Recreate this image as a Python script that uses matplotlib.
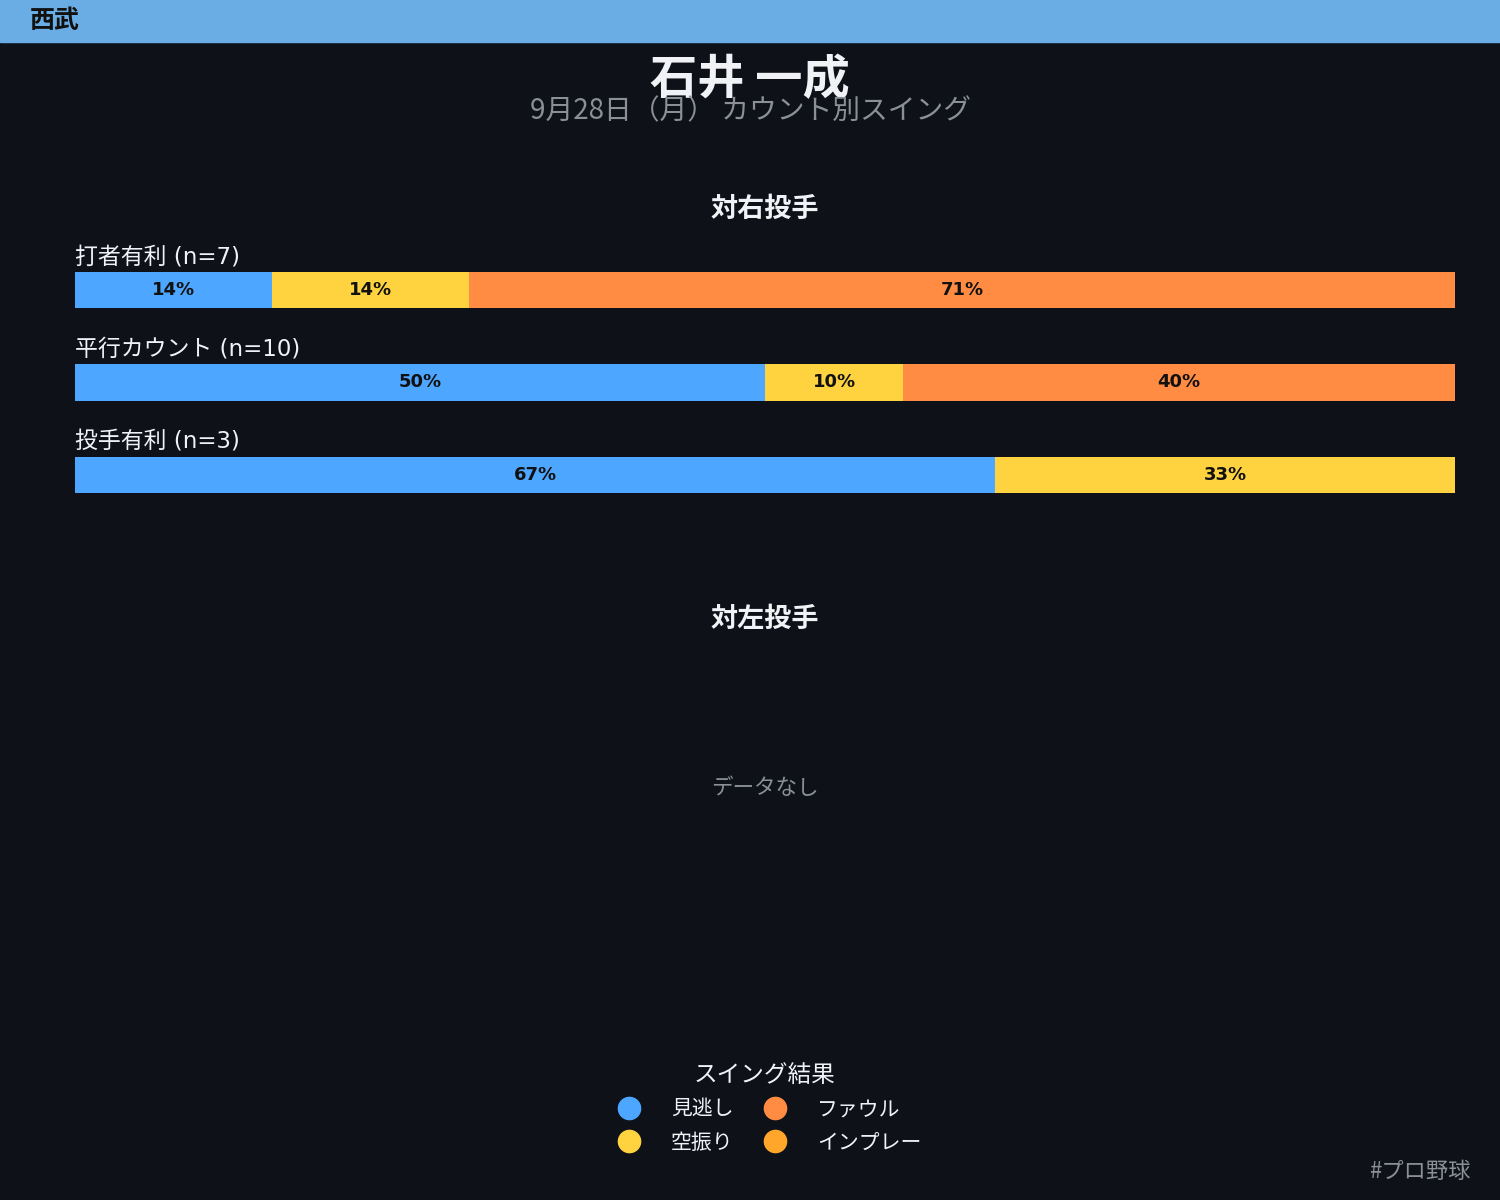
import matplotlib.pyplot as plt
from matplotlib.patches import Rectangle
from matplotlib.lines import Line2D

plt.rcParams['font.family'] = ['Noto Sans CJK JP', 'DejaVu Sans']

# data
team = '西武'
player = '石井 一成'
subtitle = '9月28日（月） カウント別スイング'
results = ['見逃し', '空振り', 'ファウル', 'インプレー']
colors = ['#4DA6FF', '#FFD23F', '#FF8C42', '#FFA62B']
count_states = ['打者有利', '平行カウント', '投手有利']
vs_right = [
    [1, 1, 5, 0],
    [5, 1, 4, 0],
    [2, 1, 0, 0],
]
vs_left = []

BG = '#0E1117'
W, H = 1500, 1200

fig = plt.figure(figsize=(15, 12), dpi=100, facecolor=BG)

# top banner
fig.patches.append(Rectangle((0, 1 - 42 / H), 1, 42 / H, transform=fig.transFigure,
                             color='#6AADE4', zorder=0))
fig.text(30 / W, 1 - 21 / H, team, fontsize=18, fontweight='bold', color='#111111',
         va='center', ha='left')

fig.text(0.5, 1 - 80 / H, player, fontsize=34, fontweight='bold', color='#F0F2F6',
         ha='center', va='center')
fig.text(0.5, 1 - 111 / H, subtitle, fontsize=20, color='#8A8F98',
         ha='center', va='center')


def draw_panel(ax, rows):
    ax.set_facecolor(BG)
    ax.set_xlim(0, 1)
    ax.set_ylim(2.378, -0.54)
    ax.axis('off')
    for i, counts in enumerate(rows):
        n = sum(counts)
        left = 0
        for c, col in zip(counts, colors):
            if c == 0:
                continue
            frac = c / n
            ax.barh(i, frac, left=left, height=0.39, color=col)
            ax.text(left + frac / 2, i, f'{round(frac * 100)}%', ha='center', va='center',
                    fontsize=13, fontweight='bold', color='#111111', family='DejaVu Sans')
            left += frac
        ax.text(0, i - 0.235, f'{count_states[i]} (n={n})', ha='left', va='bottom',
                fontsize=16.5, color='#F0F2F6', family=['DejaVu Sans', 'Noto Sans CJK JP'])


fig.text(765 / W, 1 - 209 / H, '対右投手', fontsize=19.5, fontweight='bold',
         color='#F0F2F6', ha='center', va='center')
ax1 = fig.add_axes([75 / W, 1 - 510 / H, 1380 / W, 270 / H])
draw_panel(ax1, vs_right)

fig.text(765 / W, 1 - 619 / H, '対左投手', fontsize=19.5, fontweight='bold',
         color='#F0F2F6', ha='center', va='center')
if not vs_left:
    fig.text(765 / W, 1 - 788 / H, 'データなし', fontsize=15.5, color='#8A8F98',
             ha='center', va='center')

handles = [Line2D([], [], marker='o', linestyle='', markersize=16, color=c) for c in colors]
leg = fig.legend(handles, results, loc='upper center', bbox_to_anchor=(765 / W, 1 - 1045 / H),
                 ncol=2, frameon=False, fontsize=15, title='スイング結果', title_fontsize=17,
                 labelcolor='#F0F2F6', handletextpad=1.0, columnspacing=1.0,
                 labelspacing=0.55)
leg.get_title().set_color('#F0F2F6')

fig.text(1470 / W, 1 - 1171 / H, '#プロ野球', fontsize=16, color='#8A8F98',
         ha='right', va='center')

fig.savefig('out.png', facecolor=BG)
